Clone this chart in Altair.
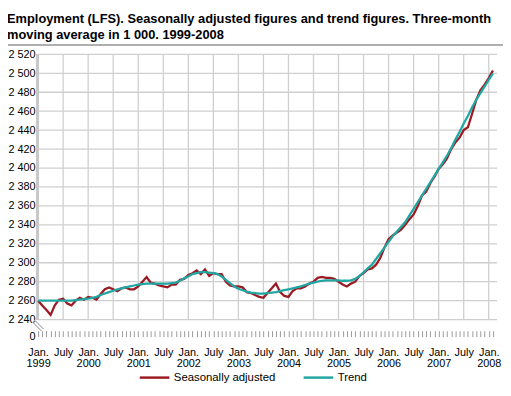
import altair as alt
import pandas as pd

title_lines = [
    "Employment (LFS). Seasonally adjusted figures and trend figures. Three-month",
    "moving average in 1 000. 1999-2008",
]
series_names = ["Seasonally adjusted", "Trend"]
series_colors = ["#9b1b24", "#22a6a2"]

# monthly values, Jan 1999 .. Feb 2008 (in 1 000)
seasonally_adjusted = [
    2260, 2255, 2250, 2245, 2255, 2261, 2262, 2257, 2255, 2260, 2263, 2261,
    2264, 2263, 2261, 2267, 2272, 2274, 2272, 2270, 2273, 2274, 2272, 2272,
    2275, 2280, 2285, 2279, 2278, 2276, 2275, 2274, 2277, 2277, 2282, 2283,
    2287, 2289, 2292, 2288, 2293, 2286, 2289, 2288, 2288, 2280, 2276, 2275,
    2275, 2274, 2269, 2268, 2266, 2264, 2263, 2268, 2273, 2278, 2269, 2265,
    2264, 2270, 2273, 2273, 2275, 2278, 2280, 2284, 2285, 2284, 2284, 2283,
    2280, 2277, 2275, 2278, 2280, 2286, 2289, 2293, 2294, 2298, 2305, 2316,
    2325, 2329, 2332, 2335, 2340, 2346, 2351, 2360, 2371, 2375, 2384, 2391,
    2399, 2404, 2410, 2420, 2427, 2432, 2440, 2443, 2457, 2472, 2482, 2488,
    2495, 2503,
]
trend = [
    2260, 2260, 2260, 2260, 2260, 2260, 2260, 2260, 2260, 2260.5, 2261, 2261.5,
    2262, 2263, 2264, 2266, 2267.5, 2269, 2270.5, 2272, 2273, 2274, 2275, 2276,
    2277, 2277.5, 2278, 2278, 2278, 2278, 2278, 2278, 2278.5, 2279, 2281, 2283.5,
    2285.5, 2288, 2289, 2290, 2290, 2289.5, 2289, 2288, 2285.5, 2282, 2278.5, 2275,
    2272.5, 2271, 2269.5, 2268.5, 2268, 2267.5, 2267.5, 2268, 2268.5, 2269, 2270, 2271,
    2272, 2273, 2274, 2275, 2276.5, 2278, 2279, 2280, 2281, 2281.5, 2281.5, 2281.5,
    2281.5, 2281, 2281, 2281.5, 2283, 2286, 2290, 2294, 2298, 2304, 2310, 2316,
    2322, 2328, 2333, 2338, 2343, 2350, 2357, 2364, 2371, 2378, 2385, 2392,
    2399, 2406, 2413, 2421, 2430, 2438, 2447, 2455, 2464, 2472, 2479, 2486,
    2493, 2500,
]
months = list(range(len(seasonally_adjusted)))  # 0 = Jan. 1999
first_year = 1999
y_grid_values = [2240, 2260, 2280, 2300, 2320, 2340, 2360, 2380, 2400,
                 2420, 2440, 2460, 2480, 2500, 2520]
y_zero_position = 2222  # where the broken axis shows "0"
x_grid_months = [0, 6, 12, 18, 24, 30, 36, 42, 48, 54, 60, 66, 72, 78, 84,
                 90, 96, 102, 108]

W, H = 465, 286
FONT = "Liberation Sans"
GRID = "#cfcfcf"

lines_df = pd.DataFrame({
    "m": months * 2,
    "v": seasonally_adjusted + trend,
    "series": [series_names[0]] * len(months) + [series_names[1]] * len(months),
})
hgrid_df = pd.DataFrame({"v": y_grid_values})
vgrid_df = pd.DataFrame({"m": x_grid_months,
                         "y0": [y_grid_values[0]] * len(x_grid_months),
                         "y1": [y_grid_values[-1]] * len(x_grid_months)})

xscale = alt.Scale(domain=[0, 110], nice=False, zero=False)
yscale = alt.Scale(domain=[y_zero_position, 2520], nice=False, zero=False)

x_axis = alt.Axis(
    values=months, title=None, grid=False, domain=False,
    tickSize=6, tickColor="#9a9a9a", tickWidth=1, offset=-6,
    labelExpr=(f"datum.value % 12 == 0 ? ['Jan.', '' + ({first_year} + datum.value / 12)]"
               " : (datum.value % 6 == 0 ? 'July' : '')"),
    labelFont=FONT, labelFontSize=11, labelColor="#000", labelPadding=10,
    labelLineHeight=11, labelOverlap=False, labelFlush=False, labelBound=False,
)
y_axis = alt.Axis(
    values=[y_zero_position] + y_grid_values, title=None, grid=False, domain=False,
    ticks=False,
    labelExpr="datum.value < 2230 ? '0' : replace(format(datum.value, ','), ',', ' ')",
    labelFont=FONT, labelFontSize=11, labelColor="#000", labelPadding=3,
    labelOverlap=False,
)

hgrid = alt.Chart(hgrid_df).mark_rule(color=GRID, strokeWidth=1.3).encode(
    y=alt.Y("v:Q", scale=yscale, axis=y_axis),
    x=alt.value(0), x2=alt.value(W),
)
vgrid = alt.Chart(vgrid_df).mark_rule(color=GRID, strokeWidth=1.3).encode(
    x=alt.X("m:Q", scale=xscale, axis=x_axis),
    y=alt.Y("y0:Q", scale=yscale, axis=y_axis), y2="y1:Q",
)
left_line = alt.Chart(hgrid_df).mark_rule(color="#c8c8c8", strokeWidth=2.5).encode(
    x=alt.value(-0.5), y=alt.value(0), y2=alt.value(269),
)
brk1 = alt.Chart(hgrid_df).mark_rule(color="#c0c0c0", strokeWidth=1).encode(
    x=alt.value(-5), x2=alt.value(3), y=alt.value(272), y2=alt.value(280))
brk2 = alt.Chart(hgrid_df).mark_rule(color="#c0c0c0", strokeWidth=1).encode(
    x=alt.value(-3), x2=alt.value(5), y=alt.value(270), y2=alt.value(278))
sep_top = alt.Chart(hgrid_df).mark_rule(color="#b0b0b0", strokeWidth=1).encode(
    x=alt.value(-31), x2=alt.value(W + 7), y=alt.value(-9.5))

lines = alt.Chart(lines_df).mark_line(strokeWidth=2.3, interpolate="linear").encode(
    x=alt.X("m:Q", scale=xscale, axis=x_axis),
    y=alt.Y("v:Q", scale=yscale, axis=y_axis),
    color=alt.Color(
        "series:N",
        scale=alt.Scale(domain=series_names, range=series_colors),
        legend=alt.Legend(
            title=None, orient="none", legendX=111.5, legendY=321,
            direction="horizontal", symbolType="M-3,0H3", symbolSize=100,
            symbolStrokeWidth=2.5, symbolFillColor="transparent",
            labelFont=FONT, labelFontSize=11.5,
            labelColor="#000", columnPadding=23, labelOffset=13, padding=0,
        ),
    ),
    order=alt.Order("m:Q"),
)

chart = alt.layer(
    hgrid, vgrid, left_line, brk1, brk2, sep_top, lines
).properties(
    width=W, height=H,
    title=alt.TitleParams(
        text=title_lines, anchor="start", frame="bounds", fontSize=13,
        fontWeight="bold", font=FONT, lineHeight=16, offset=3, color="#000",
    ),
    autosize=alt.AutoSizeParams(type="none"),
    padding={"left": 30.5, "top": 44.5, "right": 6, "bottom": 44},
).configure_view(stroke=None)

chart.save("out.html", embed_options={"renderer": "svg", "actions": False})
